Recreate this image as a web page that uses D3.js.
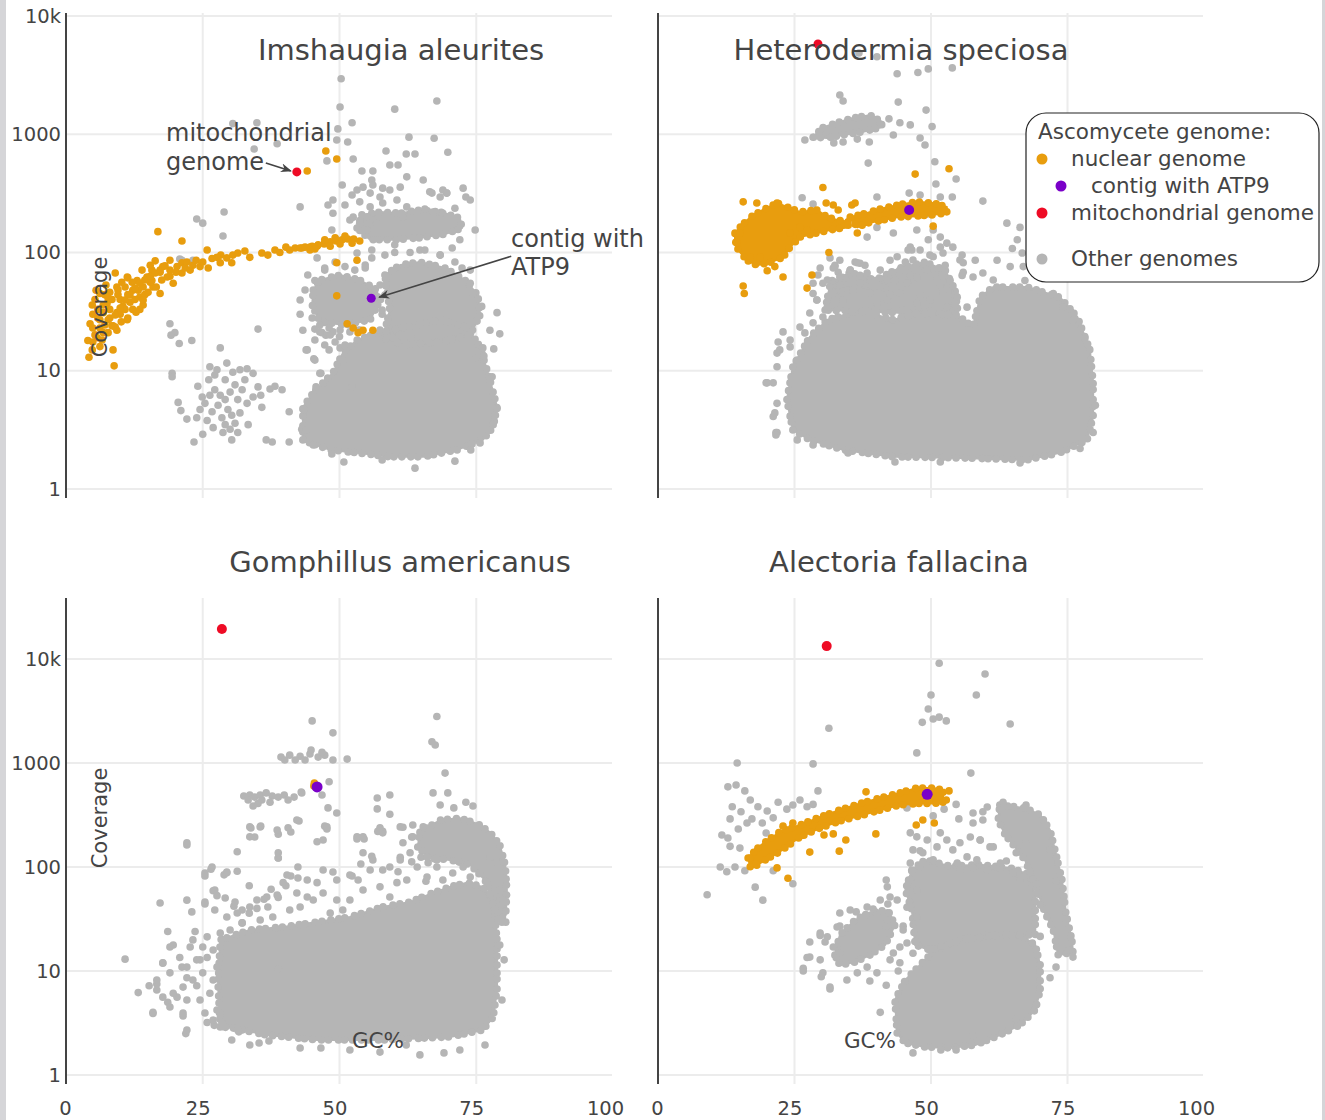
<!DOCTYPE html>
<html><head><meta charset="utf-8">
<script src="https://cdn.jsdelivr.net/npm/d3@7"></script>
<style>body{margin:0;background:#fff;} text{font-family:"DejaVu Sans",Verdana,sans-serif;fill:#444;}</style>
</head><body>
<script>
// ---------- tick values / labels ----------
const xTicks = [0, 25, 50, 75, 100];
const yTicks = [1, 10, 100, 1000, 10000];
const yTickLabels = ["1", "10", "100", "1000", "10k"];
const panelTitles = ["Imshaugia aleurites", "Heterodermia speciosa", "Gomphillus americanus", "Alectoria fallacina"];
const legendTitle = "Ascomycete genome:";
const legendItems = ["nuclear genome", "contig with ATP9", "mitochondrial genome", "Other genomes"];

// ---------- data: [GC%, coverage] ----------
// Imshaugia aleurites — dense cloud outlines
const imshDense = [
 [[43.3,2.6],[43.3,4.9],[45.2,6.5],[48.8,9.6],[50.6,14.1],[53.2,18.2],[56.9,20.8],[62.3,23.4],[68.4,26.9],[73.3,23.4],[75.7,15.9],[77.5,8.36],[78.8,4.94],[78.1,3.34],[76.2,2.6],[71.5,2.14],[65.3,1.87],[59.2,1.87],[53.2,2.02],[48.3,2.14],[44.6,2.45]],
 [[45.2,48.2],[46.4,58.5],[50.1,64.5],[53.7,58.5],[56.9,48.2],[57.0,36.0],[55.6,26.9],[51.0,24.4],[46.4,25.9],[45.0,36.0]],
 [[58.3,64.5],[61.1,78.4],[64.7,83],[69.3,74],[72.9,58.5],[75.3,43.7],[75.7,29.6],[73.9,20.1],[68.4,17.5],[61.1,16.5],[58.3,22.1],[59.2,32.6]],
 [[53.2,161],[54.1,208],[57.4,220],[61.1,215],[64.7,229],[68.4,220],[72.0,196],[72.4,161],[69.3,143],[64.7,133],[60.1,128],[55.6,128]]
];
const imshGray = [
 [19.0,25],[19.9,21],[19.2,20],[20.7,17],[23.0,18],[19.4,9.5],[19.4,8.9],[20.5,5.4],[21.0,4.6],[22.1,3.9],[23.9,4.0],[24.9,6.0],[24.1,7.4],[26.1,8.4],[26.3,10.8],[27.6,10.2],[29.4,11.6],[30.5,9.7],[31.8,10.2],[33.1,10.4],[34.2,9.5],[35.1,7.3],[34.2,6.0],[33.1,5.3],[31.8,4.4],[30.9,3.6],[30.0,3.2],[28.7,3.0],[26.9,3.3],[25.8,3.8],[24.5,4.7],[25.0,2.9],[23.4,2.5],[30.3,2.6],[31.4,3.0],[33.3,3.5],[35.8,4.9],[35.6,6.2],[37.3,7.0],[38.2,7.4],[39.5,6.9],[35.1,22.5],[28.2,15.6],[36.6,2.6],[37.7,2.5],[40.8,2.5],[40.8,4.5],[43.7,4.7],[43.1,3.2],[45.3,12.6],[44.1,15],[45.7,7.3],[46.6,9.5],[45.5,22.5],[46.8,21],[45.9,90],[48.1,23],
 [27.2,6.9],[28.2,6.2],[29.1,5.7],[30.0,6.6],[30.9,7.6],[29.1,8.4],[27.8,5.1],[29.6,4.7],[31.4,5.7],[26.7,4.5],[28.5,4.0],[25.4,5.3],[32.2,6.9],[30.3,4.2],[32.7,8.4],[27.2,9.2],[29.1,3.5],[26.3,6.2],
 [28.9,220],[23.9,192],[25.0,177],[28.7,138],[21.2,86],[23.2,86],[20.8,88],[42.8,243],[34.9,1250],[30.5,1230],[34.4,750],[38.6,830],[47.7,595],[50.3,2950],[50.1,1700],[52.3,1250],[49.7,1110],[49.5,894],[51.5,860],[60.1,1630],[67.8,1910],[62.7,945],[67.3,925],[58.5,722],[62.2,680],[63.8,680],[69.8,705],[52.5,618],[59.2,550],[60.7,550],[56.1,489],[54.1,489],[65.3,410],[62.3,436],[72.6,350],[73.1,295],[66.9,318],[69.6,318],[68.4,295],[48.8,278],[47.9,252],[48.8,215],[48.6,155],[49.5,128],[65.6,233],[68.9,215],[69.6,199],[50.5,372],[55.9,410],[52.3,306],
 [70.6,109],[72.4,74],[73.9,55],[74.4,45],[76.0,35],[78.8,31],[77.5,22],[79.3,20.5],[78.2,15.3],[76.2,15.6],[76.4,13.3],[74.9,12.8],[77.9,8.9],[78.8,4.8],[78.1,3.5],[75.7,2.45],[74.0,2.14],[71.1,1.72],[63.8,1.5],[57.8,1.76],[50.8,1.69],[48.6,1.98],[45.2,2.36],[43.9,3.16],[43.5,4.75],[46.4,9.5],[45.5,12.3],[43.9,15],[48.1,15],[50.1,15.6],[48.8,21.3],[50.6,12.3],[52.3,7.3],
 [53.2,99],[55.9,105],[60.1,116],[64.7,105],[68.4,95],[54.7,74],[45.5,58],[47.3,71],[42.8,30],[43.3,22],[73.9,278],[71.1,237],[72.0,128],[74.8,155],[51.9,188],[51.0,252],
 [53.2,338],[54.3,357],[56.1,372],[57.9,350],[59.2,338],[61.1,357],[55.6,318],[57.4,295],[53.7,268],[55.6,243],[57.9,262],[60.5,278],[62.3,243],[55.0,199],[56.8,177],[53.7,177],[55.0,155],[52.5,199],[66.5,326],[68.9,338],[69.6,318],[67.1,220],[61.6,199],
 [57.5,40],[59.0,44],[58.5,52],[57.8,30],[47.5,20],[50.0,19.5],[53.5,22],[58.5,18.5],[63.0,19.5],
 [57.4,53.1],[58.3,43.7],[57.8,32.6],[58.9,25.9],[57.4,22.1],[55.9,20.1],[53.7,22.1],[51.9,21.3],[50.1,22.1],[48.3,20.1],[46.4,21.3],[45.5,18.2],[47.3,16.5],[49.2,17.5],[51.0,16.5],[46.1,56.3],[47.3,74],[49.2,83],[51.0,76],[52.8,71],[54.7,78.4],[55.9,90],[58.3,95],[60.1,100],[62.9,100],[65.6,105],[68.4,95],[71.1,83],[73.9,71],[46.4,24.4],[45.0,27.9],[43.7,48.2],[44.2,64.5],[42.8,39.7]
];
const imshNuclear = [
 [44.1,489],[47.5,722],[49.5,618],[16.8,150],[21.2,125],[25.8,105],[28.3,95],[32.7,103],[35.8,99],[38.2,105],[40.2,111],[41.9,109],[43.1,109],[44.6,111],[45.9,113],[47.3,120],
 [16.3,85],[17.7,76],[19.0,71],[20.3,76],[21.2,82],[22.1,83],[23.2,78],[24.5,76],[26.0,74],[27.6,91],[28.2,82],[29.4,90],[30.5,95],[30.3,82],[31.4,99],[21.2,67],[19.6,55],[17.2,45],[15.7,58],[14.1,36],[12.2,33],[11.2,27],[9.3,22],[8.6,24],[6.8,21],[5.7,19],[4.0,18],[4.9,23],[4.9,30],[5.3,40],[4.2,13],[8.8,11],[8.6,15],[8.4,24],[6.2,16],[4.8,15],[6.2,45],[8.0,46],[9.0,67],[11.2,62],[13.0,58],[14.8,62],[15.9,51],[10.4,35],[12.2,48],[13.5,42],[9.9,40],[11.7,38],[14.1,51],[9.3,31],[7.5,37],[6.8,31],[8.0,33],[9.3,51],[10.8,51],[12.1,56],[15.7,71],[18.5,62],[17.2,68],[19.0,86],
 [5.8,33],[7.1,44],[7.7,27],[9.9,30],[11.3,44],[12.6,40],[14.4,44],[15.4,56],[6.2,27],[4.4,25],[8.4,40],[10.8,33],[13.2,48],[9.5,44],[7.3,53],[4.8,36],[5.5,48],[13.5,33],
 [5.3,20.1],[6.2,23],[7.1,24.4],[8.0,27.9],[9.0,29.6],[9.9,33.9],[10.8,39.7],[11.7,43.7],[12.6,50],[13.5,55],[14.4,58.5],[15.4,63],[16.3,67],[17.2,71],[18.1,77],[5.8,27.9],[6.8,36],[7.7,41],[9.5,48.2],[10.2,56],[11.3,61],[13.9,71],[15.4,78],[4.9,17.5],[6.6,18.2],[7.7,21],[9.0,23.4],[10.1,25.9],[11.3,27.9],[12.8,31.3],[14.1,39.7],[15.0,46],[16.5,51],[17.5,58.5],[19.0,63],[20.1,68],[21.8,74],[22.7,71],[23.8,86],[25.0,83],[26.7,89],
 [42.8,109],[43.7,111],[45.0,113],[46.1,116],[47.2,118],[48.3,123],[49.4,125],[50.5,128],[51.5,130],[52.6,130],[53.7,125],[51.0,138],[49.2,133],[47.3,128],[50.1,118],[52.3,120],[48.3,113],[45.5,107],[44.6,105],[40.9,105],[39.1,100],[36.9,95],[33.6,91],
 [49.5,82],[53.2,86],[49.5,43],[51.4,25],[52.5,23],[53.4,21],[54.3,22],[56.1,22]
];
const imshATP9 = [[55.8, 41]];
const imshMito = [[42.2, 480]];

// Heterodermia speciosa
const heteroDense = [
 [[24.7,3.16],[23.6,5.66],[24.7,10.8],[27.8,19.3],[31.0,26.9],[37.0,32.6],[43.1,26.9],[49.3,32.6],[55.3,28.5],[57.7,23.4],[59.0,41.9],[61.4,51],[67.6,51],[73.6,41.9],[76.8,28.5],[79.1,15],[79.7,7.9],[79.7,4.1],[78.6,2.6],[73.6,2.02],[67.6,1.76],[55.3,1.83],[43.1,1.87],[33.9,2.14],[27.8,2.6]],
 [[28.4,944],[30.2,1140],[32.8,1250],[35.7,1370],[38.8,1450],[41.2,1260],[40.7,1140],[37.6,1050],[33.9,985],[31.0,930]],
 [[30.6,32.6],[31.5,53.1],[35.2,67.8],[39.8,58.5],[44.3,73.9],[48.9,83],[52.6,71],[54.4,48.2],[55.0,29.6]]
];
const heteroGray = [
 [31.5,90],[32.4,78],[33.0,68],[31.9,58],[33.3,53],[34.3,61],[35.2,71],[36.1,83],[34.8,48],[32.6,46],[37.0,64],[37.9,53],[38.8,46],[39.8,58],[40.7,71],[41.6,50],[42.5,44],[43.4,58],[44.3,71],[45.3,83],[46.2,64],[47.1,53],[48.0,44],[48.9,71],[49.8,95],[50.7,64],[51.7,53],[52.6,78],[53.5,58],[54.4,44],[46.5,105],[42.5,86],[37.9,78],[49.5,128],[54.4,36],[55.7,64],[55.7,95],
 [32.1,74],[33.3,62],[35.2,71],[37.0,81],[37.6,58.5],[35.7,48.2],[33.9,39.7],[32.1,45.4],[31.0,34.5],[38.8,45.4],[40.1,37.4],[42.0,39.7],[44.3,45.4],[45.6,55],[47.4,62],[46.7,86.4],[48.0,105],[50.4,92],[49.3,71],[51.1,58.5],[52.2,45.4],[49.8,39.7],[47.4,37.4],[44.9,32.6],[54.8,41.9],[56.6,34.5],[52.9,34.5],[46.2,111],[43.8,92],[44.9,71],[42.0,58.5],[40.7,51],[37.0,55],[38.3,67],[31.0,58.5],[29.7,74],[28.4,55],[29.1,39.7],[27.8,30.8],[26.0,23.4],[24.2,18.2],[22.3,15],[21.8,10.8],[21.1,7.9],[20.0,7.9],[21.8,5.3],[21.1,4.1],[21.8,3.0],[52.9,120],[51.7,135],[55.3,86.4],[55.9,68],[57.7,62],[61.4,58.5],
 [19.8,7.9],[21.4,4.4],[21.6,3.0],[22.0,17.5],[21.8,14.1],[22.9,21.3],[24.2,15.9],[25.5,12.3],[26.9,20.9],[28.4,25.4],[30.2,28.5],[29.1,39.7],[29.3,64.5],[30.2,55],[28.4,45],[32.4,76],[33.3,86],[36.5,82],[38.3,135],[40.1,163],[43.1,146],[45.8,105],[47.4,155],[49.3,212],[50.4,155],[51.7,111],[52.2,99],[54.0,111],[55.9,82],[58.1,86],[59.5,67],[62.1,86],[63.9,177],[64.9,108],[64.5,76],[65.8,128],[66.3,163],[66.7,99],[66.9,76],[67.2,58],[72.4,45],[74.2,34.5],[76.0,26.9],[78.2,18.9],[80.1,5.1],[79.7,3.0],[77.3,2.2],[66.3,1.66],[51.7,1.69],[43.4,1.69],[34.8,2.02],[28.4,2.36],[25.5,2.6],[21.6,2.86],
 [53.9,3640],[49.5,3570],[47.6,3330],[43.8,3250],[40.1,4520],[36.8,4870],[33.3,2150],[33.9,1910],[44.0,1870],[49.1,1600],[50.2,1160],[46.2,1200],[44.3,1250],[42.3,1350],[43.1,985],[48.0,930],[48.9,811],[38.5,570],[50.7,585],[54.6,418],[50.9,379],[46.0,318],[48.0,306],[51.7,295],[53.9,295],[40.1,295],[26.4,290],[28.4,257],[59.5,272],[26.9,894],[32.2,845],[33.9,860],[36.5,910],[38.7,860]
];
const heteroNuclearDense = [
 [[14.1,146],[15.0,163],[16.9,199],[19.2,229],[21.8,262],[23.6,243],[26.0,220],[29.1,229],[31.0,199],[32.8,188],[35.2,181],[34.6,163],[31.5,155],[29.1,146],[26.0,135],[24.2,111],[22.9,91],[20.5,82],[18.1,78],[16.3,86],[14.7,105],[14.1,128]],
 [[35.2,199],[38.3,216],[41.2,237],[44.9,257],[47.4,268],[50.4,262],[52.9,243],[52.9,216],[50.4,208],[47.4,203],[43.8,199],[41.2,188],[38.3,177],[36.5,163]]
];
const heteroNuclear = [
 [15.6,268],[18.1,262],[21.8,262],[30.2,354],[30.8,262],[32.1,252],[33.0,229],[35.5,252],[36.1,262],[36.5,146],[31.3,100],[28.2,64.5],[27.3,50],[22.9,62],[20.0,70],[21.4,76],[15.6,52],[15.8,45],[47.1,460],[53.3,510],[50.4,167],[15.0,146],[14.5,120],[16.9,91],[18.7,91],[24.2,146],[27.3,155],[26.0,163]
];
const heteroATP9 = [[46.0, 229]];
const heteroMito = [[29.3, 5800]];

// Gomphillus americanus
const gomphDense = [
 [[28.2,2.9],[27.8,7.33],[28.2,19.9],[33.6,24.8],[39.7,26.5],[45.9,29.6],[51.9,33],[57.9,41.3],[62.9,46],[67.1,56.4],[70.2,64.4],[73.3,70.7],[76.2,64.4],[78.1,48.2],[78.8,19.9],[78.8,6.56],[78.1,3.6],[76.2,2.71],[70.2,2.32],[57.9,2.17],[45.9,2.17],[36.7,2.42],[30.5,2.83]],
 [[64.7,216],[68.4,283],[72.0,295],[75.3,260],[77.5,216],[79.3,163],[80.3,105],[80.6,60],[80.4,34.5],[79.0,30.9],[77.9,48.2],[76.6,75],[73.9,105],[70.2,117],[66.5,122],[64.3,155]]
];
const gomphGray = [
 [45.0,2540],[22.1,163],[31.3,91],[25.4,82],[26.5,95],[29.4,88],[26.9,59],[27.6,53],[25.4,44],[22.1,48],[17.2,45],[18.6,24],[23.6,24],[23.0,37],[19.6,17.8],[17.7,11.9],[10.8,13],[13.2,6.2],[15.9,3.9],[15.2,7.2],[16.6,7.5],[18.6,5.0],[20.3,5.6],[21.4,3.7],[21.9,2.5],[22.1,8.6],[21.2,10.9],[24.5,12.8],[23.9,7.2],[25.8,3.2],[27.1,3.0],[28.5,3.2],[31.6,2.6],[35.3,2.03],[37.1,2.12],[38.8,10.5],[33.5,36],[32.2,29],[34.9,40],[36.2,49],[37.5,61],[38.8,51],[40.2,66],[41.1,82],[42.4,100],[38.8,122],[38.8,207],[41.1,217],[42.6,277],[47.9,370],[47.3,247],[41.7,470],[43.1,516],[33.8,237],[34.5,194],[35.6,247],[28.9,84],[30.7,42],[33.5,66],
 [39.3,1140],[40.9,1190],[42.8,1160],[44.6,1220],[46.1,1140],[47.3,1190],[48.8,1070],[43.7,1070],[41.9,1070],[40.0,1070],[46.8,1270],[44.8,1330],
 [32.5,481],[33.6,492],[34.5,470],[35.5,492],[36.6,516],[37.7,481],[38.8,470],[39.9,492],[40.6,441],[35.8,441],[37.3,419],[33.3,441],[34.2,386],[35.1,408],
 [48.8,1950],[51.4,1090],[48.1,660],[46.8,492],[43.0,527],[49.5,330],[47.7,232],[45.9,175],[67.8,2800],[66.9,1600],[67.5,1490],[69.3,800],[67.1,516],[68.4,394],[69.8,516],[70.9,370],[73.1,419],[74.4,386],[56.9,460],[56.9,362],[59.2,492],[59.2,322],[57.0,220],[57.9,220],[53.2,186],[54.5,186],[55.9,127],[53.9,107],[52.3,82],[61.1,124],[60.7,90],[63.2,112],[64.9,124],[66.2,110],[67.3,120],[65.8,73],[61.6,241],[63.2,194],[79.7,29.5],[80.4,29.5],[46.6,1.82],[69.1,1.63],[62.2,1.94],
 [30.3,2.17],[33.6,1.94],[42.8,1.82],[51.9,1.74],[57.4,1.66],[64.7,1.56],[72.0,1.74],[76.6,1.94],[79.7,5.26],[80.1,12.8],[79.3,17.8],
 [25.4,87.6],[26.7,100],[29.4,89.6],[27.2,60.1],[25.4,46.1],[27.2,38.6],[29.1,50.4],[30.9,46.1],[32.2,38.6],[33.6,41.3],[34.9,48.2],[36.7,51.5],[38.6,53.8],[39.7,70.7],[40.4,83.8],[42.4,78.4],[44.1,75],[45.9,70.7],[47.0,93.6],[48.8,89.6],[49.5,75],[51.9,83.8],[53.4,75],[54.3,60.1],[51.9,48.2],[50.6,38.6],[48.3,36.1],[45.2,48.2],[42.8,41.3],[40.9,38.6],[37.8,33.0],[35.5,30.9],[32.2,29.0],[30.0,24.8],[29.4,33.0],[31.3,36.1],[36.9,41.3],[42.2,56.3],[44.1,51.5],[47.0,56.3],[49.5,48.2],[55.6,93.6],[57.4,64.4],[59.2,51.5],[57.9,93.6],[60.5,70.7],[62.3,75],[64.2,100],[66.0,80.2],[67.8,100],[68.9,75],[70.7,87.6],[72.6,100],[73.9,80.2],[75.7,87.6],[77.0,70.7],[79.3,60.1],[79.9,48.2],[78.8,109],[77.5,125],[62.9,137],[66.0,125],[67.8,117],[61.1,117],[59.2,100],[54.3,137],[56.1,117],[61.1,243],[63.4,253],[65.3,243],[61.6,171],[63.4,195],[57.9,213],[57.4,238],[53.2,195],[54.3,195],[47.7,243],[47.0,182],[42.2,283],[38.6,227],[40.6,238],[33.6,243],[35.5,243],[33.6,195],[38.8,137],[38.8,122],[31.3,140],[22.1,171],
 [17.7,12.0],[19.0,9.6],[20.8,13.5],[22.1,10.9],[23.9,12.8],[25.8,13.5],[25.0,9.6],[23.2,8.19],[21.4,7.0],[19.6,6.1],[17.7,5.6],[16.6,6.56],[16.6,8.19],[22.1,5.26],[24.5,5.26],[26.3,6.1],[26.9,8.19],[27.6,10.9],[26.9,15.9],[25.0,17.0],[22.7,17.0],[19.0,17.0],[23.2,19.9],[25.8,21.3],[28.2,23.2],[25.4,3.95],[26.9,3.38],[27.6,4.22],[19.0,4.5],[21.4,3.95],[15.9,4.0],[22.1,2.71],[31.4,2.71]
];
const gomphNuclear = [[45.4, 640], [45.3, 600]];
const gomphATP9 = [[45.9, 588]];
const gomphMito = [[28.5, 19400]];

// Alectoria fallacina
const alectDense = [
 [[43.8,2.53],[43.4,5.26],[45.3,8.19],[48.0,11.4],[50.7,15.9],[55.3,19.9],[60.8,22.2],[66.3,22.2],[69.1,17.8],[70.0,11.4],[70.0,6.56],[69.1,4.22],[66.3,3.03],[62.6,2.42],[58.1,1.94],[53.5,1.82],[48.9,1.86],[45.3,2.03]],
 [[46.5,93.6],[48.9,117],[53.5,102],[59.0,105],[64.5,98],[68.2,83.8],[69.1,48.2],[69.1,22.2],[62.6,22.2],[55.3,19.9],[49.8,15.9],[47.1,17.8],[46.5,38.6],[45.3,60.1]],
 [[62.6,394],[67.2,370],[70.0,316],[71.8,227],[72.7,146],[74.0,75],[74.7,36.1],[75.8,19.9],[76.0,15.2],[73.3,14.2],[72.4,24.8],[70.9,36.1],[69.1,67.1],[67.2,117],[65.4,155],[63.6,203],[62.3,283]],
 [[32.4,14.2],[33.3,22.2],[36.1,30.9],[38.8,36.5],[42.1,38.6],[43.4,27.7],[41.6,17.8],[38.8,14.2],[36.1,12.2],[33.3,11.4]]
];
const alectGray = [
 [14.5,1000],[12.8,590],[14.3,614],[15.9,539],[13.6,380],[16.9,441],[18.3,380],[15.2,340],[20.0,346],[13.2,290],[11.7,203],[12.8,190],[14.7,232],[16.3,265],[17.2,290],[19.1,265],[21.1,297],[22.0,419],[23.6,360],[24.7,394],[26.0,441],[27.3,380],[28.4,400],[29.3,539],[28.4,980],[13.2,158],[15.0,152],[11.4,100],[12.6,90],[14.1,100],[15.9,92],[17.8,64],[19.2,48],[24.7,69],[21.1,92],[9.0,54],[19.8,212],[21.4,170],
 [51.5,9100],[50.0,4500],[49.5,3300],[48.4,2460],[50.4,2650],[51.5,2760],[52.8,2540],[59.9,7170],[58.3,4500],[64.5,2370],[47.4,1250],[57.3,800],[31.3,2160],[45.6,370],[50.4,310],[52.4,360],[54.6,400],[55.1,290],[57.7,265],[59.5,340],[57.2,194],[59.0,182],[60.8,156],[63.2,419],[67.4,394],[48.0,143],[49.8,114],[41.8,75],[42.1,44],[45.6,41],[47.3,30],[47.3,19],[44.9,27],[29.7,22],[30.6,19],[27.8,19],[26.6,10],[27.8,13.6],[29.9,8.8],[31.5,6.7],[33.3,27],[36.3,37],[39.4,39.5],[41.8,27],[43.1,14.9],[38.8,8.0],[41.8,7.3],[40.7,4.0],[44.0,10],[46.7,1.63],[51.8,1.74],[54.6,1.74],[57.7,2.37],[65.6,3.45],[69.2,4.7],[71.8,8.6],[72.9,10.9],[75.3,15.9],[76.0,13.6],[74.7,31.5],[72.9,73],[71.8,146],[67.4,170],[65.6,137],[63.8,114],[62.6,98],[60.1,98],[57.7,98],[55.3,93],[69.2,69],[70.0,43],[70.0,21.5],
 [29.7,23.2],[31.0,21.3],[27.3,13.5],[26.6,10.6],[30.2,9.6],[31.5,7.0],[34.6,8.19],[36.5,9.6],[38.3,10.9],[40.1,9.6],[42.5,12.8],[44.3,12.0],[33.3,36.1],[35.2,38.6],[38.3,41.3],[40.7,48.2],[42.5,51.5],[43.8,48.2],[42.0,64.4],[46.2,41.3],[47.4,33.0],[44.9,24.8],[45.6,18.6],[46.7,14.8],[44.3,17.0],[42.0,30.9],[32.8,26.5],[33.3,14.8],[32.1,17.0],[29.7,12.8],
 [46.2,213],[47.4,195],[49.3,182],[51.1,156],[52.9,182],[46.7,146],[48.5,137],[50.4,117],[46.2,109],[48.0,100],[51.7,213],[54.0,146],[55.3,171],[56.6,125],[54.8,109],[58.4,117],[60.3,93.6],[62.7,109],[65.0,87.6],[66.3,75],[46.2,75],[47.4,60.1],[59.0,182],[59.5,283],[57.7,330],[60.3,378],[62.7,353],[61.4,156]
];
const alectNuclearDense = [
 [[16.5,122],[18.7,160],[22.3,217],[26.0,253],[29.7,303],[33.3,353],[37.0,408],[40.7,460],[44.3,516],[47.4,575],[50.4,575],[52.2,550],[52.2,419],[50.4,408],[48.0,408],[44.3,394],[40.7,353],[37.0,310],[33.3,276],[29.7,237],[26.0,194],[22.3,140],[20.0,120],[18.1,104],[16.9,100]]
];
const alectNuclear = [
 [38.1,528],[53.3,539],[52.8,441],[48.5,283],[47.3,253],[50.6,265],[39.9,208],[34.4,182],[33.2,142],[27.8,139],[30.4,203],[32.1,208],[23.8,78],[21.8,98],[24.7,265],[22.9,247],[16.9,122],[18.0,107]
];
const alectATP9 = [[49.3, 500]];
const alectMito = [[30.9, 13300]];

// ---------- colours ----------
const C = {gray:"#b5b5b5", orange:"#e89d0e", purple:"#7a00c8", red:"#ee0b25", grid:"#ececec", axis:"#444"};

// ---------- layout ----------
const panels = [
 {name:panelTitles[0], xr:[66,613], yr:[498,13], yd:[0.839,10600], title:[401,60], yLabels:true, xLabels:false,
  dense:imshDense, gray:imshGray, nucDense:[], nuc:imshNuclear, atp:imshATP9, mito:imshMito, rAtp:4.5, rMito:4.5, covLabel:[100,307]},
 {name:panelTitles[1], xr:[658,1204], yr:[498,13], yd:[0.839,10600], title:[901,60], yLabels:false, xLabels:false,
  dense:heteroDense, gray:heteroGray, nucDense:heteroNuclearDense, nuc:heteroNuclear, atp:heteroATP9, mito:heteroMito, rAtp:5, rMito:4.5},
 {name:panelTitles[2], xr:[66,613], yr:[1084,598], yd:[0.819,38600], title:[400,572], yLabels:true, xLabels:true,
  dense:gomphDense, gray:gomphGray, nucDense:[], nuc:gomphNuclear, atp:gomphATP9, mito:gomphMito, rAtp:5.5, rMito:5, covLabel:[100,818], gcLabel:[378,1048]},
 {name:panelTitles[3], xr:[658,1204], yr:[1084,598], yd:[0.819,38600], title:[899,572], yLabels:false, xLabels:true,
  dense:alectDense, gray:alectGray, nucDense:alectNuclearDense, nuc:alectNuclear, atp:alectATP9, mito:alectMito, rAtp:5.5, rMito:5, gcLabel:[870,1048]}
];

const svg = d3.select("body").append("svg").attr("width",1325).attr("height",1120);
svg.append("rect").attr("width",1325).attr("height",1120).attr("fill","#fff");
svg.append("rect").attr("x",0).attr("y",0).attr("width",6).attr("height",1120).attr("fill","#d5d5d8");
svg.append("rect").attr("x",1322).attr("y",0).attr("width",3).attr("height",1120).attr("fill","#d5d5d8");

const defs = svg.append("defs");
defs.append("marker").attr("id","arrow").attr("viewBox","0 0 10 10").attr("refX",9).attr("refY",5)
  .attr("markerWidth",7).attr("markerHeight",7).attr("orient","auto")
  .append("path").attr("d","M0,1 L10,5 L0,9 L3,5 Z").attr("fill","#444");

function cloud(g, data, color, x, y) {
  const line = d3.line().x(d=>x(d[0])).y(d=>y(d[1])).curve(d3.curveLinearClosed);
  g.selectAll(null).data(data).join("path").attr("d",line)
    .attr("fill",color).attr("stroke",color).attr("stroke-width",2).attr("stroke-linejoin","round");
  // dotted rim so the edge reads as individual points
  g.selectAll(null).data(data).join("path").attr("d",line)
    .attr("fill","none").attr("stroke",color).attr("stroke-width",7.6).attr("stroke-linecap","round")
    .attr("stroke-dasharray","0 8 0 6 0 10 0 7 0 9");
}

const scales = [];
panels.forEach((p, pi) => {
  const x = d3.scaleLinear().domain([0,100]).range(p.xr);
  const y = d3.scaleLog().domain(p.yd).range(p.yr);
  scales.push({x,y});
  const g = svg.append("g");
  g.selectAll(".hg").data(yTicks).join("line")
    .attr("x1",p.xr[0]).attr("x2",p.xr[1]-1).attr("y1",d=>y(d)).attr("y2",d=>y(d))
    .attr("stroke",C.grid).attr("stroke-width",2);
  g.selectAll(".vg").data(xTicks.filter(d=>d>0&&d<100)).join("line")
    .attr("x1",d=>x(d)).attr("x2",d=>x(d)).attr("y1",p.yr[1]).attr("y2",p.yr[0])
    .attr("stroke",C.grid).attr("stroke-width",2);
  cloud(g, p.dense, C.gray, x, y);
  g.selectAll(".gp").data(p.gray).join("circle")
    .attr("cx",d=>x(d[0])).attr("cy",d=>y(d[1])).attr("r",3.8).attr("fill",C.gray);
  cloud(g, p.nucDense, C.orange, x, y);
  g.selectAll(".np").data(p.nuc).join("circle")
    .attr("cx",d=>x(d[0])).attr("cy",d=>y(d[1])).attr("r",3.8).attr("fill",C.orange);
  g.selectAll(".ap").data(p.atp).join("circle")
    .attr("cx",d=>x(d[0])).attr("cy",d=>y(d[1])).attr("r",p.rAtp).attr("fill",C.purple);
  g.selectAll(".mp").data(p.mito).join("circle")
    .attr("cx",d=>x(d[0])).attr("cy",d=>y(d[1])).attr("r",p.rMito).attr("fill",C.red);
  g.append("line").attr("x1",p.xr[0]).attr("x2",p.xr[0]).attr("y1",p.yr[1]).attr("y2",p.yr[0])
    .attr("stroke",C.axis).attr("stroke-width",2);
  if (p.yLabels) {
    const ax = g.append("g").attr("transform",`translate(${p.xr[0]},0)`)
      .call(d3.axisLeft(y).tickValues(yTicks).tickFormat((d,i)=>yTickLabels[i]).tickSize(0).tickPadding(5));
    ax.select(".domain").remove();
    ax.selectAll("text").style("font-size","19.5px").attr("fill","#444").style("font-family","DejaVu Sans");
  }
  if (p.xLabels) {
    const shift = {1:-1, 2:-5, 3:-8};
    const ax = g.append("g").attr("transform",`translate(0,${p.yr[0]+17})`)
      .call(d3.axisBottom(x).tickValues(xTicks).tickSize(0).tickPadding(0));
    ax.select(".domain").remove();
    ax.selectAll("text").style("font-size","19.5px").attr("fill","#444").style("font-family","DejaVu Sans")
      .attr("dx", d => shift[String(d).length]);
  }
  svg.append("text").attr("x",p.title[0]).attr("y",p.title[1]).attr("text-anchor","middle")
    .style("font-size","29px").text(p.name);
  if (p.covLabel) {
    svg.append("text").attr("transform",`translate(${p.covLabel[0]+7},${p.covLabel[1]}) rotate(-90)`)
      .attr("text-anchor","middle").style("font-size","21px").text("Coverage");
  }
  if (p.gcLabel) {
    svg.append("text").attr("x",p.gcLabel[0]).attr("y",p.gcLabel[1]).attr("text-anchor","middle")
      .style("font-size","21.5px").text("GC%");
  }
});

// ---------- annotations (top-left panel) ----------
{
  const {x,y} = scales[0];
  const m = imshMito[0], a = imshATP9[0];
  const mx = x(m[0]), my = y(m[1]);
  svg.append("line").attr("x1",mx-31).attr("y1",my-9).attr("x2",mx-6).attr("y2",my-1)
    .attr("stroke","#444").attr("stroke-width",1.6).attr("marker-end","url(#arrow)");
  const t1 = svg.append("text").attr("x",166).attr("y",my-31).style("font-size","24px");
  t1.append("tspan").attr("x",166).text("mitochondrial");
  t1.append("tspan").attr("x",166).attr("dy",29).text("genome");
  const ax_ = x(a[0]), ay_ = y(a[1]);
  svg.append("line").attr("x1",ax_+140).attr("y1",ay_-42).attr("x2",ax_+8).attr("y2",ay_-1)
    .attr("stroke","#444").attr("stroke-width",1.6).attr("marker-end","url(#arrow)");
  const t2 = svg.append("text").attr("x",511).attr("y",ay_-51).style("font-size","24px");
  t2.append("tspan").attr("x",511).text("contig with");
  t2.append("tspan").attr("x",511).attr("dy",28).text("ATP9");
}

// ---------- legend ----------
{
  const lg = svg.append("g");
  lg.append("rect").attr("x",1026).attr("y",113).attr("width",293).attr("height",169)
    .attr("rx",20).attr("ry",20).attr("fill","#fff").attr("stroke","#222").attr("stroke-width",1.2);
  lg.append("text").attr("x",1038).attr("y",139).style("font-size","21.5px").text(legendTitle);
  const items = [
    {c:C.orange, mx:1042, my:159, tx:1071, ty:166},
    {c:C.purple, mx:1061, my:186, tx:1091, ty:193},
    {c:C.red,    mx:1042, my:213, tx:1071, ty:220},
    {c:C.gray,   mx:1042, my:259, tx:1071, ty:266}
  ];
  items.forEach((it,i)=>{
    lg.append("circle").attr("cx",it.mx).attr("cy",it.my).attr("r",5.5).attr("fill",it.c);
    lg.append("text").attr("x",it.tx).attr("y",it.ty).style("font-size","21.5px").text(legendItems[i]);
  });
}
</script>
</body></html>
